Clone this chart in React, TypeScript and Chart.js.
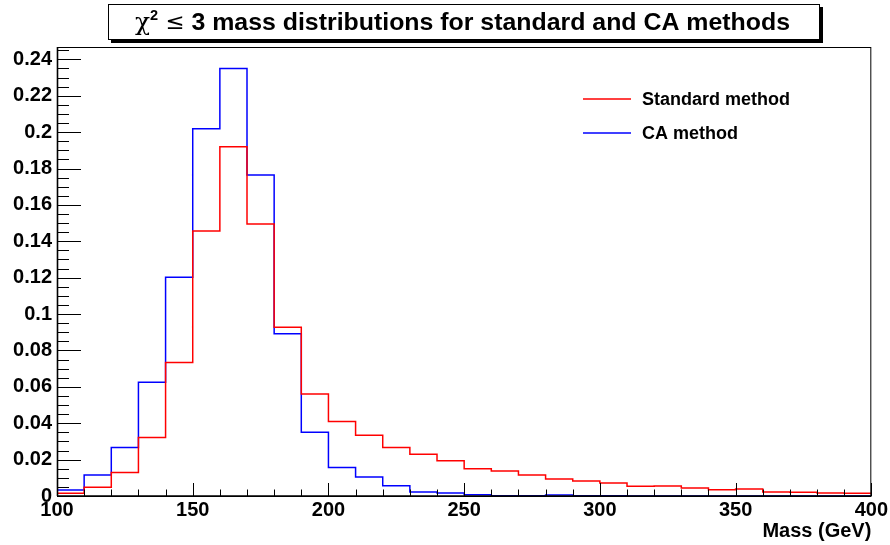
import React, { useEffect, useRef } from "react";
import { Chart, registerables } from "chart.js";

Chart.register(...registerables);

// Bin low edges (GeV), 10 GeV wide bins from 100 to 400
const binLowEdges = [100, 110, 120, 130, 140, 150, 160, 170, 180, 190, 200, 210, 220, 230, 240, 250, 260, 270, 280, 290, 300, 310, 320, 330, 340, 350, 360, 370, 380, 390];
const xUpperEdge = 400;

const standardValues = [0.0015, 0.0048, 0.0129, 0.0322, 0.0734, 0.1457, 0.192, 0.1495, 0.0927, 0.0561, 0.041, 0.0334, 0.0266, 0.0229, 0.0194, 0.015, 0.0138, 0.0116, 0.0094, 0.0083, 0.0072, 0.0053, 0.0055, 0.0044, 0.0035, 0.0039, 0.0022, 0.002, 0.0017, 0.0015];
const caValues = [0.0033, 0.0116, 0.0267, 0.0625, 0.1203, 0.2019, 0.235, 0.1764, 0.0892, 0.0351, 0.0156, 0.0105, 0.0057, 0.0022, 0.0017, 0.0007, 0.0002, 0.0002, 0.0005, 0.0001, 0.0001, 0, 0, 0, 0, 0, 0, 0, 0, 0];

const seriesNames = ["Standard method", "CA method"];
const seriesColors = ["#ff0000", "#0000ff"];
const chartTitleMain = " 3 mass distributions for standard and CA methods";
const xAxisTitle = "Mass (GeV)";

const xMin = 100;
const xMax = 400;
const xMajorStep = 50;
const xMinorStep = 10;
const yMin = 0;
const yMax = 0.2468;
const yMajorStep = 0.02;
const yMinorStep = 0.005;

const FONT = "'Liberation Sans', Arial, Helvetica, sans-serif";

function toSteps(values: number[]) {
  const pts = binLowEdges.map((e, i) => ({ x: e, y: values[i] }));
  pts.push({ x: xUpperEdge, y: values[values.length - 1] });
  return pts;
}

const framePlugin = {
  id: "rootFrame",
  afterDatasetsDraw(chart: any) {
    const { ctx, chartArea, scales } = chart;
    const { left, right, top, bottom } = chartArea;
    const xs = scales.x;
    const ys = scales.y;
    ctx.save();
    ctx.strokeStyle = "#000";
    ctx.lineWidth = 1;
    ctx.strokeRect(left + 0.5, top + 0.5, right - left - 1, bottom - top);
    ctx.lineWidth = 1.6;
    ctx.beginPath();
    ctx.moveTo(left, bottom);
    ctx.lineTo(right, bottom);
    ctx.moveTo(left + 0.5, bottom);
    ctx.lineTo(left + 0.5, top);
    ctx.stroke();
    ctx.lineWidth = 1;
    ctx.beginPath();
    // y ticks (inside)
    const nYMinor = Math.floor((yMax - yMin) / yMinorStep + 1e-6);
    for (let i = 0; i <= nYMinor; i++) {
      const v = yMin + i * yMinorStep;
      const py = Math.round(ys.getPixelForValue(v)) + 0.5;
      const major = i % Math.round(yMajorStep / yMinorStep) === 0;
      const len = major ? 24 : 12;
      ctx.moveTo(left, py);
      ctx.lineTo(left + len, py);
    }
    // x ticks (inside, pointing up)
    const nXMinor = Math.round((xMax - xMin) / xMinorStep);
    for (let i = 0; i <= nXMinor; i++) {
      const v = xMin + i * xMinorStep;
      const px = Math.round(xs.getPixelForValue(v)) + 0.5;
      const major = (v - xMin) % xMajorStep === 0;
      const len = major ? 13 : 6.5;
      ctx.moveTo(px, bottom);
      ctx.lineTo(px, bottom - len);
    }
    ctx.stroke();
    ctx.restore();
  },
  afterDraw(chart: any) {
    const { ctx } = chart;
    ctx.save();
    // Title box with shadow
    const bx = 108, by = 4, bw = 712, bh = 36;
    ctx.fillStyle = "#000";
    ctx.fillRect(bx + 3, by + 3, bw, bh);
    ctx.fillStyle = "#fff";
    ctx.fillRect(bx, by, bw, bh);
    ctx.strokeStyle = "#000";
    ctx.lineWidth = 1;
    ctx.strokeRect(bx + 0.5, by + 0.5, bw - 1, bh - 1);

    // Title text
    const cy = by + bh / 2 + 1;
    const chiFont = "24px 'DejaVu Serif', 'Liberation Serif', serif";
    const supFont = `bold 14px ${FONT}`;
    const leFont = `22px 'DejaVu Sans', ${FONT}`;
    const mainFont = `bold 24px ${FONT}`;
    ctx.textBaseline = "middle";
    ctx.font = chiFont;
    const wChi = ctx.measureText("\u03c7").width;
    ctx.font = supFont;
    const wSup = ctx.measureText("2").width;
    ctx.font = leFont;
    const wLe = ctx.measureText(" \u2264").width;
    ctx.font = mainFont;
    const wMain = ctx.measureText(chartTitleMain).width;
    const total = wChi + wSup + wLe + wMain;
    const targetW = 655;
    const sx = targetW / total;
    ctx.translate(135, 0);
    ctx.scale(sx, 1);
    ctx.fillStyle = "#000";
    ctx.textAlign = "left";
    let x = 0;
    ctx.font = chiFont;
    ctx.fillText("\u03c7", x, cy + 1);
    x += wChi;
    ctx.font = supFont;
    ctx.fillText("2", x, cy - 7);
    x += wSup;
    ctx.font = leFont;
    ctx.fillText(" \u2264", x, cy);
    x += wLe;
    ctx.font = mainFont;
    ctx.fillText(chartTitleMain, x, cy);
    ctx.setTransform(1, 0, 0, 1, 0, 0);

    // Legend
    const legendY = [99, 133];
    ctx.font = `bold 18px ${FONT}`;
    ctx.textAlign = "left";
    ctx.textBaseline = "middle";
    seriesNames.forEach((name, i) => {
      ctx.strokeStyle = seriesColors[i];
      ctx.lineWidth = 1.5;
      ctx.beginPath();
      ctx.moveTo(583, legendY[i]);
      ctx.lineTo(631, legendY[i]);
      ctx.stroke();
      ctx.fillStyle = "#000";
      ctx.fillText(name, 642, legendY[i] + 1);
    });
    ctx.restore();
  },
};

export default function App() {
  const canvasRef = useRef<HTMLCanvasElement | null>(null);

  useEffect(() => {
    const canvas = canvasRef.current;
    if (!canvas) return;
    const tickFont = { family: FONT, weight: "bold" as const, size: 20 };
    const chart = new Chart(canvas, {
      type: "line",
      data: {
        datasets: [
          {
            label: seriesNames[0],
            data: toSteps(standardValues),
            borderColor: seriesColors[0],
            borderWidth: 1.5,
            stepped: "before",
            pointRadius: 0,
            fill: false,
          },
          {
            label: seriesNames[1],
            data: toSteps(caValues),
            borderColor: seriesColors[1],
            borderWidth: 1.5,
            stepped: "before",
            pointRadius: 0,
            fill: false,
          },
        ],
      },
      options: {
        animation: false,
        responsive: false,
        devicePixelRatio: 1,
        layout: { padding: { top: 47, right: 18, left: 0, bottom: 0 } },
        plugins: {
          legend: { display: false },
          title: { display: false },
          tooltip: { enabled: false },
        },
        scales: {
          x: {
            type: "linear",
            min: xMin,
            max: xMax,
            grid: { display: false, drawTicks: false },
            border: { display: false },
            ticks: {
              stepSize: xMajorStep,
              includeBounds: false,
              autoSkip: false,
              maxRotation: 0,
              minRotation: 0,
              padding: 2,
              color: "#000",
              font: tickFont,
              callback: (v: any) => String(v),
            },
            title: {
              display: true,
              text: xAxisTitle,
              align: "end",
              color: "#000",
              font: tickFont,
              padding: { top: 0, bottom: 2 },
            },
            afterFit: (s: any) => {
              s.height = 49;
            },
          },
          y: {
            type: "linear",
            min: yMin,
            max: yMax,
            grid: { display: false, drawTicks: false },
            border: { display: false },
            ticks: {
              stepSize: yMajorStep,
              includeBounds: false,
              padding: 5,
              color: "#000",
              font: tickFont,
              callback: (v: any) => String(Math.round(Number(v) * 100) / 100),
            },
            afterFit: (s: any) => {
              s.width = 57;
            },
          },
        },
      } as any,
      plugins: [framePlugin],
    });
    return () => chart.destroy();
  }, []);

  return (
    <div style={{ position: "absolute", left: 0, top: 0, width: 890, height: 545, background: "#fff" }}>
      <canvas ref={canvasRef} width={890} height={545} style={{ width: 890, height: 545, display: "block" }} />
    </div>
  );
}
